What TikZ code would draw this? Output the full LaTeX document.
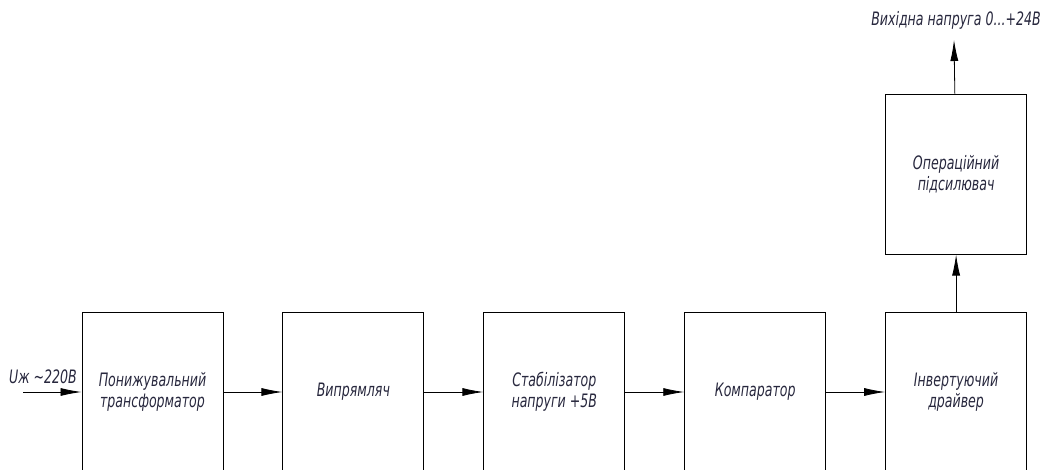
\documentclass[tikz,border=0pt]{standalone}
\usepackage{fontspec}
\newfontfamily\gost[FakeStretch=0.68]{DejaVu Sans}
\usepackage{xcolor}
\usetikzlibrary{positioning,arrows.meta}
\definecolor{inkblue}{RGB}{40,40,62}
\tikzset{block/.style={draw,line width=0.9pt,minimum width=141pt,minimum height=160pt,inner sep=0pt,align=center,text=inkblue,font=\gost\itshape\fontsize{18.5}{21}\selectfont},
signal/.style={-{Latex[length=21pt,width=8pt]},line width=0.8pt},
sig label/.style={text=inkblue,font=\gost\itshape\fontsize{18.5}{21}\selectfont}}

\begin{document}
\begin{tikzpicture}[x=1pt,y=-1pt]
	\useasboundingbox (0,0) rectangle (1050,470);
	\clip (0,0) rectangle (1050,470);

	\node[block] (trans) at (152.5,392) {Понижувальний\\трансформатор};
	\node[block,right=59pt of trans] (rect) {Випрямляч};
	\node[block,right=59pt of rect] (stab) {Стабілізатор\\напруги +5В};
	\node[block,right=59pt of stab] (comp) {Компаратор};
	\node[block,right=59pt of comp] (driver) {Інвертуючий\\драйвер};
	\node[block,above=57pt of driver] (amp) {Операційний\\підсилювач};

	\coordinate (in) at (23,392);
	\coordinate (out) at (954,40);
	\node[sig label] (inlabel) at (43,377) {Uж \textasciitilde220В};
	\node[sig label] (outlabel) at (956,20) {Вихідна напруга 0...+24В};

	\draw[signal] (in) -- (trans);
	\draw[signal] (trans) -- (rect);
	\draw[signal] (rect) -- (stab);
	\draw[signal] (stab) -- (comp);
	\draw[signal] (comp) -- (driver);
	\draw[signal] (driver) -- (amp);
	\draw[signal] (amp) -- (out);
\end{tikzpicture}
\end{document}
